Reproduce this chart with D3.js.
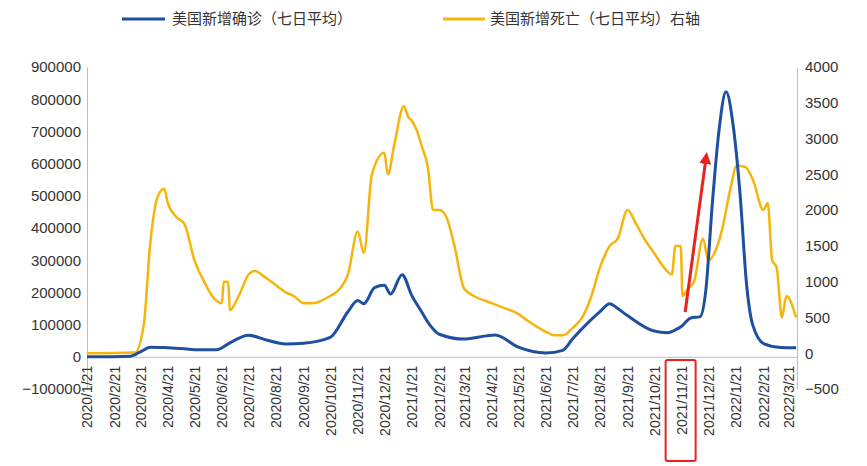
<!DOCTYPE html>
<html><head><meta charset="utf-8">
<script src="https://cdn.jsdelivr.net/npm/d3@7"></script>
<style>body{margin:0;background:#fff;font-family:"Liberation Sans",Arial,sans-serif}</style>
</head><body><div id="chart"></div>
<script>
// x tick labels, monthly
var tickLabels = ["2020/1/21","2020/2/21","2020/3/21","2020/4/21","2020/5/21","2020/6/21","2020/7/21","2020/8/21","2020/9/21","2020/10/21","2020/11/21","2020/12/21","2021/1/21","2021/2/21","2021/3/21","2021/4/21","2021/5/21","2021/6/21","2021/7/21","2021/8/21","2021/9/21","2021/10/21","2021/11/21","2021/12/21","2022/1/21","2022/2/21","2022/3/21"];

// new confirmed cases (7 day avg), left axis
var caseDates = ["2020/1/21","2020/3/10","2020/3/21","2020/4/1","2020/4/21","2020/5/10","2020/5/25","2020/6/15","2020/7/1","2020/7/21","2020/8/10","2020/9/1","2020/9/21","2020/10/21","2020/11/10","2020/11/21","2020/11/28","2020/12/10","2020/12/21","2020/12/28","2021/1/10","2021/1/21","2021/2/1","2021/2/10","2021/2/21","2021/3/21","2021/4/15","2021/4/25","2021/5/21","2021/6/21","2021/7/10","2021/7/21","2021/8/21","2021/9/1","2021/9/10","2021/9/21","2021/10/21","2021/11/5","2021/11/15","2021/11/21","2021/12/1","2021/12/12","2021/12/18","2021/12/26","2022/1/2","2022/1/10","2022/1/18","2022/1/26","2022/2/2","2022/2/9","2022/2/22","2022/3/10","2022/3/30"];
var caseValues = [0,2000,15000,30000,28000,25000,22000,22000,45000,67000,52000,40000,42000,60000,140000,175000,165000,215000,222000,195000,255000,190000,140000,100000,70000,55000,65000,68000,30000,12000,20000,55000,140000,165000,150000,128000,80000,75000,85000,95000,120000,125000,200000,490000,700000,823000,720000,500000,230000,100000,40000,30000,28000];

// new deaths (7 day avg), right axis
var deathDates = ["2020/1/21","2020/3/15","2020/3/25","2020/4/1","2020/4/10","2020/4/17","2020/4/21","2020/5/1","2020/5/10","2020/5/21","2020/6/1","2020/6/10","2020/6/21","2020/6/23","2020/6/28","2020/6/30","2020/7/10","2020/7/21","2020/7/28","2020/8/10","2020/8/21","2020/9/1","2020/9/10","2020/9/21","2020/10/1","2020/10/21","2020/11/1","2020/11/10","2020/11/21","2020/11/28","2020/12/7","2020/12/21","2020/12/25","2021/1/1","2021/1/12","2021/1/17","2021/1/21","2021/1/27","2021/2/1","2021/2/8","2021/2/14","2021/2/21","2021/3/1","2021/3/10","2021/3/21","2021/4/1","2021/4/21","2021/5/1","2021/5/21","2021/6/1","2021/6/21","2021/7/1","2021/7/10","2021/7/21","2021/8/1","2021/8/10","2021/8/21","2021/9/1","2021/9/10","2021/9/21","2021/10/1","2021/10/10","2021/10/21","2021/11/1","2021/11/10","2021/11/14","2021/11/20","2021/11/22","2021/11/28","2021/12/5","2021/12/15","2021/12/21","2021/12/28","2022/1/5","2022/1/15","2022/1/22","2022/2/1","2022/2/10","2022/2/21","2022/2/26","2022/3/3","2022/3/8","2022/3/14","2022/3/19","2022/3/30"];
var deathValues = [0,10,400,1500,2200,2300,2100,1900,1800,1300,1000,800,700,1000,1000,600,800,1100,1150,1050,950,850,800,700,700,800,900,1100,1700,1400,2500,2800,2500,2900,3450,3300,3250,3100,2900,2600,2000,2000,1900,1500,900,800,700,650,550,450,300,250,250,350,500,750,1200,1500,1600,2000,1800,1600,1400,1200,1100,1500,1500,800,900,1000,1600,1300,1400,1700,2300,2620,2600,2400,2000,2100,1300,1200,500,800,500];

var W = 867, H = 466;
var margin = {left: 87, right: 70, top: 67, bottom: 77};
var parse = d3.timeParse("%Y/%m/%d");

var svg = d3.select("#chart").append("svg").attr("width", W).attr("height", H);

var x = d3.scaleTime().domain([parse("2020/1/21"), parse("2022/3/31")]).range([margin.left, W - margin.right]);
var yL = d3.scaleLinear().domain([-100000, 900000]).range([389, 67]);
var yR = d3.scaleLinear().domain([-500, 4000]).range([389, 67]);

// left axis
var axL = svg.append("g").attr("transform", "translate(" + margin.left + ",0)")
    .call(d3.axisLeft(yL).tickValues(d3.range(-100000, 900001, 100000)).tickSize(0).tickPadding(6).tickFormat(d3.format("d")));
// right axis
var axR = svg.append("g").attr("transform", "translate(" + (W - margin.right) + ",0)")
    .call(d3.axisRight(yR).tickValues(d3.range(-500, 4001, 500)).tickSize(0).tickPadding(8).tickFormat(d3.format("d")));
[axL, axR].forEach(function (a) {
    a.select(".domain").attr("stroke", "#bfbfbf");
    a.selectAll("text").attr("font-size", 15).attr("fill", "#333").attr("font-family", "Liberation Sans, Arial, sans-serif");
});

// x axis at left zero
var axX = svg.append("g").attr("transform", "translate(0," + yL(0) + ")")
    .call(d3.axisBottom(x).tickValues(tickLabels.map(parse)).tickSize(0).tickFormat(d3.timeFormat("%Y/%-m/%-d")));
axX.select(".domain").attr("stroke", "#bfbfbf");
axX.selectAll("text")
    .attr("font-size", 14).attr("fill", "#333").attr("font-family", "Liberation Sans, Arial, sans-serif")
    .attr("transform", "rotate(-90)").attr("text-anchor", "end")
    .attr("x", -9).attr("y", 0).attr("dy", "0.35em");

// lines
var caseLine = d3.line().x(function (d, i) { return x(parse(caseDates[i])); }).y(function (d) { return yL(d); }).curve(d3.curveMonotoneX);
var deathLine = d3.line().x(function (d, i) { return x(parse(deathDates[i])); }).y(function (d) { return yR(d); }).curve(d3.curveMonotoneX);

svg.append("path").datum(deathValues).attr("d", deathLine).attr("fill", "none").attr("stroke", "#f5b50a").attr("stroke-width", 2.5);
svg.append("path").datum(caseValues).attr("d", caseLine).attr("fill", "none").attr("stroke", "#1f4fa0").attr("stroke-width", 3);

// legend
var legend = svg.append("g").attr("font-size", 15).attr("fill", "#333");
legend.append("line").attr("x1", 122).attr("x2", 165).attr("y1", 19).attr("y2", 19).attr("stroke", "#1f4fa0").attr("stroke-width", 3);
legend.append("text").attr("x", 172).attr("y", 24).text("美国新增确诊（七日平均）").attr("font-family", "Noto Sans CJK SC");
legend.append("line").attr("x1", 443).attr("x2", 485).attr("y1", 19).attr("y2", 19).attr("stroke", "#f5b50a").attr("stroke-width", 3);
legend.append("text").attr("x", 490).attr("y", 24).text("美国新增死亡（七日平均）右轴").attr("font-family", "Noto Sans CJK SC");

// annotation: red box around 2021/11/21 and arrow
var xm = x(parse("2021/11/21"));
svg.append("rect").attr("x", xm - 16).attr("y", 360).attr("width", 30).attr("height", 101)
    .attr("fill", "none").attr("stroke", "#e8231f").attr("stroke-width", 2).attr("rx", 2);
svg.append("defs").append("marker").attr("id", "ah").attr("viewBox", "0 0 10 10").attr("refX", 5).attr("refY", 5)
    .attr("markerWidth", 4).attr("markerHeight", 4).attr("orient", "auto")
    .append("path").attr("d", "M0,0L10,5L0,10z").attr("fill", "#e8231f");
svg.append("line").attr("x1", x(parse("2021/11/25"))).attr("y1", 312).attr("x2", 706).attr("y2", 158)
    .attr("stroke", "#e8231f").attr("stroke-width", 3).attr("marker-end", "url(#ah)");
</script></body></html>
